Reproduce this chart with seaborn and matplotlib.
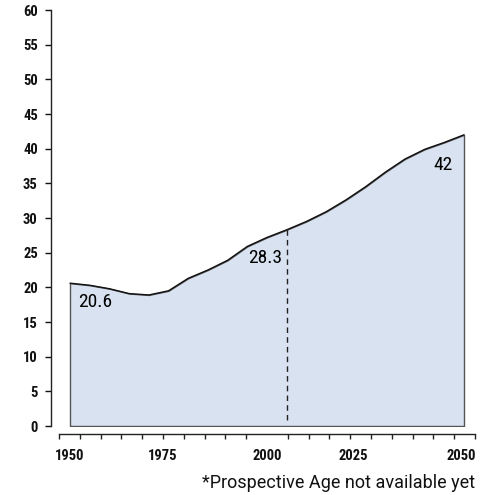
import numpy as np
import pandas as pd
import seaborn as sns
import matplotlib.pyplot as plt

# Datos
anios = [1950, 1955, 1960, 1965, 1970, 1975, 1980, 1985, 1990, 1995, 2000,
         2005, 2010, 2015, 2020, 2025, 2030, 2035, 2040, 2045, 2050]
edad = [20.6, 20.3, 19.8, 19.1, 18.9, 19.5, 21.3, 22.5, 23.9, 25.9, 27.2,
        28.3, 29.5, 30.9, 32.6, 34.5, 36.6, 38.5, 39.9, 40.9, 42.0]
etiquetas_x = ['1950', '1975', '2000', '2025', '2050']
anio_corte = 2005
valores_marcados = [(1950, 20.6), (2005, 28.3), (2050, 42.0)]
nota = '*Prospective Age not available yet'

df = pd.DataFrame({'anio': anios, 'edad': edad})

sns.set_theme(style='ticks')
plt.rcParams['font.family'] = ['Roboto Condensed', 'DejaVu Sans']
# Etiquetas de los ejes en negrita como en la original
plt.rcParams['font.weight'] = 'bold'

fig = plt.figure(figsize=(4.93, 4.95), dpi=100)
ax = fig.add_axes([59 / 493, 69 / 495, 416 / 493, 416 / 495])

# Area rellena
ax.fill_between(df['anio'], 0, df['edad'], color='#d9e2f0',
                edgecolor='#555555', linewidth=1.0, zorder=1)
sns.lineplot(data=df, x='anio', y='edad', color='#111111', linewidth=1.0,
             ax=ax, zorder=2)

# Linea vertical discontinua en el anio actual
valor_corte = df.loc[df['anio'] == anio_corte, 'edad'].iloc[0]
ax.plot([anio_corte, anio_corte], [0.8, valor_corte], color='#222222',
        linestyle=(0, (4, 3)), linewidth=1.0, zorder=3)

# Etiquetas de valores
desplaz = {1950: (2.0, -2.7, 'left'), 2005: (-1.2, -4.0, 'right'),
           2050: (-3.0, -4.3, 'right')}
for x, v in valores_marcados:
    dx, dy, ha = desplaz[x]
    ax.text(x + dx, v + dy, f'{v:g}', ha=ha, va='center', fontsize=14,
            color='#000000', fontweight='normal')

# Ejes
px_anio = 394 / 100
x0 = 1950 - 11 / px_anio
x1 = 2050 + 11 / px_anio
ax.set_xlim(x0, x1)
ax.set_ylim(0, 60)
ax.set_xlabel('')
ax.set_ylabel('')

ax.set_yticks(np.arange(0, 61, 5))
ax.tick_params(axis='y', length=4.5, width=1, pad=5, labelsize=10.5,
               colors='#111111')

pos_etiquetas = [1949.8, 1973.4, 2000.0, 2021.8, 2049.2]
ax.set_xticks(pos_etiquetas)
ax.set_xticklabels(etiquetas_x)
ax.set_xticks(np.linspace(x0, x1, 21), minor=True)
ax.tick_params(axis='x', which='major', length=0, pad=11, labelsize=10.5,
               colors='#111111')
ax.tick_params(axis='x', which='minor', length=3.5, width=1, color='#222222')

for lado in ['top', 'right']:
    ax.spines[lado].set_visible(False)
ax.spines['left'].set_position(('outward', 5.8))
ax.spines['bottom'].set_position(('outward', 5.8))
for lado in ['left', 'bottom']:
    ax.spines[lado].set_color('#222222')
    ax.spines[lado].set_linewidth(1.0)

fig.text(475 / 493, 1 - 483 / 495, nota, ha='right', va='center',
         fontsize=13, color='#111111', fontweight='normal',
         family=['Roboto', 'DejaVu Sans'])

fig.savefig('out.png', dpi=100)
